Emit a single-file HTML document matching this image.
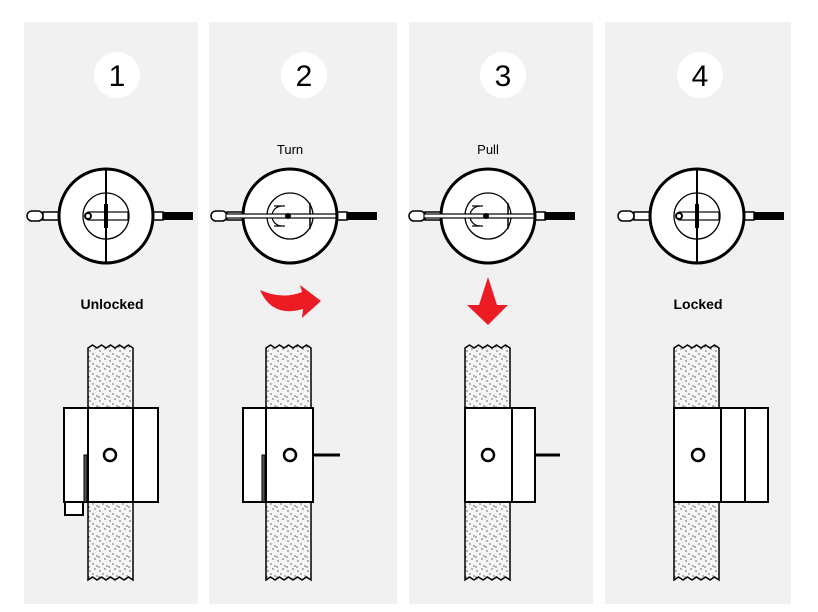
<!DOCTYPE html>
<html><head><style>
html,body{margin:0;padding:0;background:#fff;}
svg{display:block;font-family:"Liberation Sans",sans-serif;}
</style></head><body>
<svg width="818" height="612" viewBox="0 0 818 612" xmlns="http://www.w3.org/2000/svg">
<defs>
<pattern id="dots" width="10" height="10" patternUnits="userSpaceOnUse">
<rect width="10" height="10" fill="#f6f6f6"/>
<circle cx="2" cy="3" r="0.65" fill="#222"/><circle cx="7" cy="1" r="0.65" fill="#222"/>
<circle cx="5" cy="6" r="0.65" fill="#222"/><circle cx="9" cy="8" r="0.65" fill="#222"/>
<circle cx="1" cy="9" r="0.65" fill="#222"/>
</pattern>
<g id="rods">
<rect x="-79" y="-5" width="16" height="10" rx="5" fill="#fff" stroke="#000" stroke-width="1.5"/>
<rect x="-63" y="-4" width="16" height="8" fill="#fff" stroke="#000" stroke-width="1.5"/>
<rect x="46" y="-4" width="11" height="8" fill="#fff" stroke="#000" stroke-width="1.5"/>
<rect x="57" y="-4" width="30" height="8" fill="#000"/>
</g>
<g id="crossdial">
<use href="#rods"/>
<circle r="47" fill="#fff" stroke="#000" stroke-width="3"/>
<circle r="23" fill="#fff" stroke="#000" stroke-width="1.3"/>
<line x1="0" y1="-47" x2="0" y2="47" stroke="#000" stroke-width="2"/>
<rect x="-18" y="-4" width="40" height="8" fill="#fff" stroke="#000" stroke-width="1.2"/>
<rect x="-2" y="-12" width="4" height="24" fill="#000"/>
<circle cx="-18" cy="0" r="3" fill="#fff" stroke="#000" stroke-width="2"/>
</g>
<g id="turndial">
<use href="#rods"/>
<circle r="47" fill="#fff" stroke="#000" stroke-width="3"/>
<circle r="23" fill="#fff" stroke="#000" stroke-width="1.3"/>
<path d="M-8,-10 A10,10 0 1,0 -8,10" fill="none" stroke="#000" stroke-width="1.2"/>
<line x1="-16" y1="-10" x2="-5" y2="-10" stroke="#000" stroke-width="1.2"/>
<line x1="-16" y1="10" x2="-5" y2="10" stroke="#000" stroke-width="1.2"/>
<line x1="20" y1="-13" x2="20" y2="13" stroke="#000" stroke-width="1.5"/>
<rect x="-64" y="-2" width="110" height="4" fill="#fff" stroke="#000" stroke-width="1.2"/>
<circle cx="-2" cy="0" r="3" fill="#000"/>
</g>
<path id="wall" d="M0,0 l4.5,-3 4.5,3 4.5,-3 4.5,3 4.5,-3 4.5,3 4.5,-3 4.5,3 4.5,-3 4.5,3 V232 l-4.5,-3 -4.5,3 -4.5,-3 -4.5,3 -4.5,-3 -4.5,3 -4.5,-3 -4.5,3 -4.5,-3 -4.5,3 Z" fill="url(#dots)" stroke="#000" stroke-width="1.5"/>
</defs>
<rect width="818" height="612" fill="#fff"/>
<rect x="24" y="22" width="174" height="582" fill="#f1f1f1"/>
<rect x="209" y="22" width="188" height="582" fill="#f1f1f1"/>
<rect x="409" y="22" width="184" height="582" fill="#f1f1f1"/>
<rect x="605" y="22" width="186" height="582" fill="#f1f1f1"/>
<g font-size="30" text-anchor="middle">
<circle cx="117" cy="75" r="23" fill="#fff"/><text x="117" y="86">1</text>
<circle cx="304" cy="75" r="23" fill="#fff"/><text x="304" y="86">2</text>
<circle cx="503" cy="75" r="23" fill="#fff"/><text x="503" y="86">3</text>
<circle cx="700" cy="75" r="23" fill="#fff"/><text x="700" y="86">4</text>
</g>
<g font-size="13" text-anchor="middle">
<text x="290" y="154">Turn</text>
<text x="488" y="154">Pull</text>
<text x="112" y="309" font-weight="bold" font-size="14">Unlocked</text>
<text x="698" y="309" font-weight="bold" font-size="14">Locked</text>
</g>
<use href="#crossdial" x="106" y="216"/>
<use href="#turndial" x="290" y="216"/>
<use href="#turndial" x="488" y="216"/>
<use href="#crossdial" x="697" y="216"/>
<path d="M260,290 Q282,300 302,292 L300,285 L321,301 L302,318 L303,309 Q272,318 260,290 Z" fill="#ed1c24"/>
<path d="M488,277 L497,305 L508,305 L488,325 L467,305 L479,305 Z" fill="#ed1c24"/>
<g stroke="#000" stroke-width="2" fill="#fff">
<use href="#wall" x="88" y="348"/>
<rect x="88" y="408" width="45" height="94"/>
<rect x="64" y="408" width="24" height="94"/>
<rect x="133" y="408" width="25" height="94"/>
<rect x="65" y="502" width="18" height="13"/>
<rect x="84" y="455" width="3" height="47" fill="#555" stroke-width="1"/>
<circle cx="110" cy="455" r="6" stroke-width="2.5"/>
<use href="#wall" x="266" y="348"/>
<rect x="266" y="408" width="47" height="94"/>
<rect x="243" y="408" width="23" height="94"/>
<rect x="262" y="455" width="3" height="47" fill="#555" stroke-width="1"/>
<line x1="313" y1="455" x2="340" y2="455" stroke-width="3"/>
<circle cx="290" cy="455" r="6" stroke-width="2.5"/>
<use href="#wall" x="465" y="348"/>
<rect x="465" y="408" width="47" height="94"/>
<rect x="512" y="408" width="23" height="94"/>
<line x1="535" y1="455" x2="560" y2="455" stroke-width="3"/>
<circle cx="488" cy="455" r="6" stroke-width="2.5"/>
<use href="#wall" x="674" y="348"/>
<rect x="674" y="408" width="47" height="94"/>
<rect x="721" y="408" width="24" height="94"/>
<rect x="745" y="408" width="23" height="94"/>
<circle cx="698" cy="455" r="6" stroke-width="2.5"/>
</g>
</svg>
</body></html>
